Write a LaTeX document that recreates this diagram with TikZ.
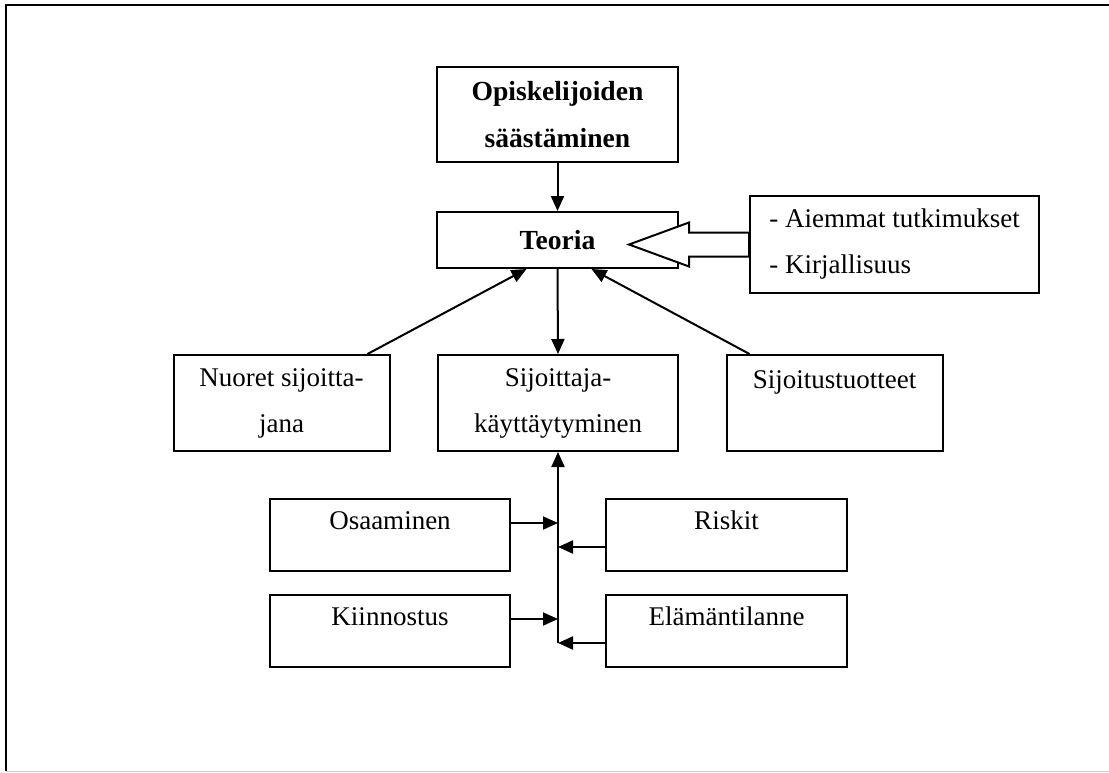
\documentclass[tikz,border=0pt]{standalone}
\usepackage{fontspec}
\setmainfont{Liberation Serif}
\usetikzlibrary{arrows.meta,calc}

\begin{document}
\begin{tikzpicture}[x=0.5pt,y=-0.5pt,
 box/.style={draw,line width=1pt,inner sep=0pt,align=center,font=\fontsize{13.5}{23}\selectfont},
 boldbox/.style={box,font=\fontsize{13.8}{23.5}\selectfont\bfseries},
 raised/.style={text height=9pt,text depth=15pt},
 tip/.style={-{Triangle[length=7.5pt,width=6.5pt]},line width=1pt},
 hollow/.style={line width=1pt,fill=white}]
 \useasboundingbox (0,0) rectangle (1109,772);
 \draw[line width=1pt] (1109,4.5) -- (5.5,4.5) -- (5.5,771);
 \draw[gray!40] (5.5,771) -- (1109,771);

 \node[boldbox,minimum width=120.5pt,minimum height=47.5pt] (opisk) at (557.5,114.5) {Opiskelijoiden\\säästäminen};
 \node[boldbox,minimum width=120.5pt,minimum height=28pt] (teoria) at (557.5,240) {Teoria};
 \node[box,align=left,minimum width=144.5pt,minimum height=48.5pt] (aiemmat) at (894.5,244.5) {- Aiemmat tutkimukset\\- Kirjallisuus};

 \node[box,minimum width=108pt,minimum height=48pt] (nuoret) at (281.5,403) {Nuoret sijoitta-\\jana};
 \node[box,minimum width=120pt,minimum height=48pt] (sijkay) at (558,403) {Sijoittaja-\\käyttäytyminen};
 \node[box,minimum width=108pt,minimum height=48pt] (tuotteet) at (834.5,403) {Sijoitustuotteet\\\mbox{}};

 \node[box,raised,minimum width=120pt,minimum height=36pt] (osaam) at (390,535) {Osaaminen};
 \node[box,raised,minimum width=120.5pt,minimum height=36pt] (riskit) at (726.5,535) {Riskit};
 \node[box,raised,minimum width=120pt,minimum height=36pt] (kiinn) at (390,631) {Kiinnostus};
 \node[box,raised,minimum width=120.5pt,minimum height=36pt] (elama) at (726.5,631) {Elämäntilanne};

 \draw[tip] (opisk) -- (teoria);
 \draw[hollow] ($(aiemmat.west)+(0,-12)$) -- ++(-60,0) -- ++(0,-10) -- ++(-60,22) -- ++(60,22) -- ++(0,-10) -- ++(60,0) -- cycle;
 \draw[tip] ($(nuoret.north)+(86,0)$) -- ($(teoria.south)+(-31,0)$);
 \draw[tip] ($(tuotteet.north)+(-85,0)$) -- ($(teoria.south)+(34,0)$);
 \draw[tip] (teoria.south) -- (sijkay.north);

 \coordinate (j1) at ($(sijkay.south |- osaam.east)+(0,-12)$);
 \coordinate (j2) at ($(sijkay.south |- riskit.west)+(0,12)$);
 \coordinate (j3) at ($(sijkay.south |- kiinn.east)+(0,-12)$);
 \coordinate (j4) at ($(sijkay.south |- elama.west)+(0,12)$);
 \draw[tip] (j4) -- (sijkay.south);
 \draw[tip] (osaam.east |- j1) -- (j1);
 \draw[tip] (riskit.west |- j2) -- (j2);
 \draw[tip] (kiinn.east |- j3) -- (j3);
 \draw[tip] (elama.west |- j4) -- (j4);
\end{tikzpicture}
\end{document}
